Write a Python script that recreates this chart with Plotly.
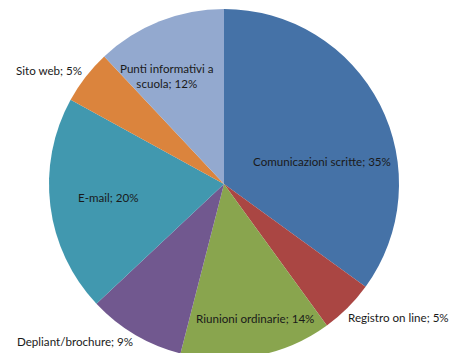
import plotly.graph_objects as go

categories = ["Comunicazioni scritte", "Registro on line", "Riunioni ordinarie",
              "Depliant/brochure", "E-mail", "Sito web", "Punti informativi a scuola"]
values = [35, 5, 14, 9, 20, 5, 12]
label_texts = ["Comunicazioni scritte; 35%", "Registro on line; 5%", "Riunioni ordinarie; 14%",
               "Depliant/brochure; 9%", "E-mail; 20%", "Sito web; 5%",
               "Punti informativi a<br>scuola; 12%"]
colors = ["#4572A7", "#AA4643", "#89A54E", "#71588F", "#4198AF", "#DB843D", "#93A9CF"]

W, H = 452, 370  # figure taller than the 353px window; the pie runs past the bottom edge
# label centre positions in pixels (x, y from top)
label_pos = [(322, 161), (398, 317), (255, 318), (75, 341), (108, 197), (49, 70), (167, 76)]

cx, cy, r = 224, 184, 175

fig = go.Figure(go.Pie(
    labels=categories, values=values, sort=False, direction="clockwise", rotation=0,
    marker=dict(colors=colors, line=dict(width=0)),
    textinfo="none", hoverinfo="label+percent",
    domain=dict(x=[(cx - r) / W, (cx + r) / W], y=[(H - cy - r) / H, (H - cy + r) / H]),
    showlegend=False,
))

for txt, (x, y) in zip(label_texts, label_pos):
    fig.add_annotation(x=x / W, y=1 - y / H, xref="paper", yref="paper", text=txt,
                       showarrow=False, xanchor="center", yanchor="middle",
                       font=dict(family="Lato", size=11.6, color="#1a1a1a"))

fig.update_layout(width=W, height=H, margin=dict(l=0, r=0, t=0, b=0),
                  paper_bgcolor="white", plot_bgcolor="white")
fig.write_html("out.html", config={"displayModeBar": False},
               post_script="document.body.style.margin='0';document.body.style.padding='0';"
                           "document.body.style.overflow='hidden';")
